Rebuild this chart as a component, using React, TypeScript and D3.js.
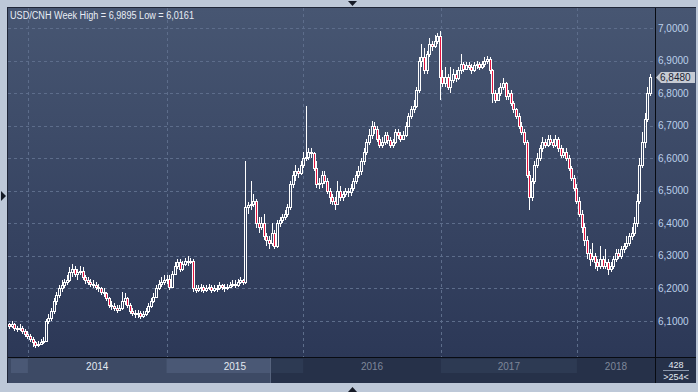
import React from 'react';
import * as d3 from 'd3';

const title = 'USD/CNH Week High = 6,9895 Low = 6,0161';
const firstOpen = 6.09;

// weekly closes, mid Nov 2013 .. summer 2018
const closes = [
  6.085, 6.09, 6.08, 6.075, 6.08, 6.07, 6.06, 6.055, 6.045, 6.035,
  6.025, 6.03, 6.035, 6.04, 6.10, 6.11, 6.13, 6.16, 6.18, 6.20,
  6.21, 6.22, 6.225, 6.25, 6.26, 6.245, 6.25, 6.255, 6.235, 6.225,
  6.22, 6.215, 6.21, 6.205, 6.20, 6.19, 6.185, 6.17, 6.15, 6.145,
  6.14, 6.135, 6.14, 6.16, 6.17, 6.15, 6.13, 6.125, 6.12, 6.125,
  6.115, 6.12, 6.13, 6.145, 6.16, 6.175, 6.20, 6.215, 6.22, 6.225,
  6.23, 6.205, 6.245, 6.27, 6.28, 6.26, 6.275, 6.285, 6.28, 6.285,
  6.20, 6.195, 6.20, 6.205, 6.195, 6.20, 6.205, 6.195, 6.20, 6.20,
  6.21, 6.205, 6.20, 6.205, 6.21, 6.215, 6.21, 6.22, 6.225, 6.22,
  6.45, 6.455, 6.46, 6.47, 6.40, 6.39, 6.40, 6.36, 6.35, 6.34,
  6.37, 6.33, 6.40, 6.41, 6.42, 6.43, 6.45, 6.52, 6.55, 6.56,
  6.555, 6.58, 6.60, 6.605, 6.62, 6.615, 6.57, 6.52, 6.525, 6.55,
  6.53, 6.50, 6.48, 6.47, 6.46, 6.50, 6.48, 6.49, 6.50, 6.495,
  6.51, 6.53, 6.55, 6.56, 6.59, 6.62, 6.65, 6.67, 6.70, 6.69,
  6.66, 6.64, 6.65, 6.67, 6.655, 6.64, 6.65, 6.68, 6.67, 6.66,
  6.67, 6.70, 6.73, 6.75, 6.76, 6.81, 6.90, 6.91, 6.87, 6.92,
  6.95, 6.945, 6.96, 6.975, 6.85, 6.83, 6.85, 6.82, 6.84, 6.86,
  6.845, 6.87, 6.89, 6.875, 6.885, 6.88, 6.87, 6.885, 6.89, 6.88,
  6.89, 6.90, 6.905, 6.87, 6.80, 6.78, 6.80, 6.82, 6.83, 6.79,
  6.80, 6.77, 6.75, 6.73, 6.70, 6.68, 6.65, 6.55, 6.48, 6.53,
  6.58, 6.60, 6.63, 6.65, 6.64, 6.66, 6.65, 6.64, 6.66, 6.63,
  6.61, 6.62, 6.60, 6.57, 6.54, 6.51, 6.47, 6.43, 6.39, 6.35,
  6.31, 6.29, 6.30, 6.28, 6.27, 6.29, 6.27, 6.28, 6.26, 6.27,
  6.29, 6.31, 6.30, 6.32, 6.33, 6.34, 6.36, 6.37, 6.40, 6.47,
  6.58, 6.65, 6.72, 6.80, 6.848,
];

const highs = [
  6.095, 6.10, 6.095, 6.085, 6.09, 6.085, 6.075, 6.07, 6.06, 6.05,
  6.04, 6.04, 6.045, 6.05, 6.105, 6.12, 6.14, 6.17, 6.19, 6.21,
  6.225, 6.23, 6.24, 6.265, 6.275, 6.27, 6.26, 6.27, 6.265, 6.24,
  6.235, 6.23, 6.225, 6.22, 6.215, 6.205, 6.20, 6.19, 6.175, 6.16,
  6.155, 6.15, 6.15, 6.19, 6.185, 6.175, 6.155, 6.14, 6.135, 6.135,
  6.13, 6.13, 6.14, 6.155, 6.17, 6.185, 6.21, 6.225, 6.235, 6.24,
  6.24, 6.24, 6.255, 6.28, 6.29, 6.29, 6.285, 6.295, 6.30, 6.295,
  6.29, 6.21, 6.21, 6.215, 6.21, 6.21, 6.215, 6.21, 6.21, 6.21,
  6.22, 6.215, 6.215, 6.215, 6.22, 6.225, 6.225, 6.23, 6.235, 6.23,
  6.59, 6.465, 6.53, 6.49, 6.475, 6.42, 6.42, 6.43, 6.37, 6.36,
  6.40, 6.38, 6.41, 6.42, 6.43, 6.44, 6.46, 6.53, 6.56, 6.58,
  6.57, 6.59, 6.62, 6.76, 6.63, 6.63, 6.62, 6.59, 6.54, 6.56,
  6.56, 6.54, 6.51, 6.49, 6.48, 6.53, 6.515, 6.50, 6.51, 6.51,
  6.52, 6.54, 6.56, 6.575, 6.60, 6.63, 6.66, 6.69, 6.715, 6.71,
  6.70, 6.67, 6.665, 6.68, 6.68, 6.665, 6.66, 6.69, 6.69, 6.68,
  6.685, 6.71, 6.74, 6.76, 6.78, 6.82, 6.91, 6.95, 6.94, 6.93,
  6.97, 6.96, 6.98, 6.985, 6.9895, 6.87, 6.88, 6.86, 6.88, 6.875,
  6.87, 6.88, 6.92, 6.895, 6.895, 6.895, 6.89, 6.895, 6.90, 6.895,
  6.90, 6.91, 6.915, 6.91, 6.875, 6.81, 6.815, 6.83, 6.845, 6.835,
  6.81, 6.81, 6.775, 6.755, 6.74, 6.71, 6.69, 6.655, 6.56, 6.54,
  6.59, 6.615, 6.64, 6.665, 6.66, 6.67, 6.67, 6.66, 6.67, 6.665,
  6.64, 6.63, 6.63, 6.61, 6.575, 6.55, 6.52, 6.48, 6.44, 6.40,
  6.36, 6.32, 6.34, 6.31, 6.29, 6.33, 6.30, 6.32, 6.29, 6.28,
  6.30, 6.32, 6.32, 6.33, 6.34, 6.36, 6.37, 6.39, 6.42, 6.49,
  6.60, 6.68, 6.74, 6.82, 6.86,
];

const lows = [
  6.075, 6.08, 6.07, 6.065, 6.07, 6.06, 6.05, 6.045, 6.035, 6.02,
  6.0161, 6.02, 6.025, 6.03, 6.035, 6.09, 6.10, 6.12, 6.15, 6.17,
  6.19, 6.20, 6.21, 6.22, 6.235, 6.235, 6.225, 6.24, 6.225, 6.215,
  6.21, 6.205, 6.20, 6.195, 6.19, 6.18, 6.175, 6.16, 6.14, 6.135,
  6.13, 6.125, 6.13, 6.135, 6.15, 6.14, 6.12, 6.115, 6.11, 6.11,
  6.105, 6.11, 6.115, 6.125, 6.14, 6.155, 6.17, 6.195, 6.205, 6.21,
  6.215, 6.195, 6.20, 6.24, 6.26, 6.25, 6.255, 6.27, 6.27, 6.275,
  6.19, 6.185, 6.19, 6.19, 6.185, 6.19, 6.195, 6.185, 6.19, 6.19,
  6.195, 6.195, 6.19, 6.195, 6.20, 6.205, 6.20, 6.205, 6.215, 6.21,
  6.215, 6.43, 6.44, 6.45, 6.385, 6.37, 6.38, 6.35, 6.33, 6.32,
  6.33, 6.32, 6.325, 6.39, 6.40, 6.41, 6.42, 6.44, 6.51, 6.53,
  6.54, 6.55, 6.57, 6.59, 6.595, 6.60, 6.56, 6.51, 6.505, 6.51,
  6.52, 6.49, 6.46, 6.455, 6.44, 6.455, 6.47, 6.47, 6.48, 6.48,
  6.485, 6.50, 6.52, 6.54, 6.55, 6.58, 6.61, 6.64, 6.66, 6.675,
  6.65, 6.63, 6.63, 6.64, 6.645, 6.63, 6.63, 6.645, 6.66, 6.65,
  6.655, 6.665, 6.695, 6.72, 6.74, 6.755, 6.80, 6.88, 6.86, 6.86,
  6.91, 6.93, 6.94, 6.95, 6.78, 6.82, 6.82, 6.81, 6.80, 6.83,
  6.835, 6.84, 6.86, 6.865, 6.87, 6.87, 6.86, 6.865, 6.875, 6.87,
  6.875, 6.88, 6.89, 6.86, 6.77, 6.77, 6.775, 6.79, 6.81, 6.78,
  6.78, 6.76, 6.74, 6.72, 6.69, 6.67, 6.64, 6.54, 6.44, 6.47,
  6.52, 6.57, 6.59, 6.62, 6.63, 6.635, 6.64, 6.63, 6.635, 6.62,
  6.60, 6.60, 6.59, 6.56, 6.53, 6.50, 6.46, 6.42, 6.37, 6.33,
  6.29, 6.27, 6.28, 6.26, 6.255, 6.26, 6.26, 6.26, 6.24, 6.25,
  6.26, 6.28, 6.29, 6.29, 6.31, 6.32, 6.33, 6.35, 6.36, 6.39,
  6.46, 6.57, 6.63, 6.71, 6.79,
];

const yTicks = [6.1, 6.2, 6.3, 6.4, 6.5, 6.6, 6.7, 6.8, 6.9, 7.0];
const years = ['2014', '2015', '2016', '2017', '2018'];
const yearStarts = [6.8, 59.6, 111.6, 164, 215.8]; // bar index where each year begins
const lastPrice = 6.848;
const barsTotal = '428';
const barsShown = '>254<';

const W = 698;
const H = 392;
const plot = { left: 8, top: 8, right: 655, bottom: 357 };
const panel = { right: 696, bottom: 383 };
const thumbRight = 270;
const font = '"Liberation Sans", Arial, sans-serif';

const fmt = (v: number) => v.toFixed(4).replace('.', ',');

export default function App() {
  const x = d3.scaleLinear().domain([0, closes.length - 1]).range([10, 651]);
  const y = d3.scaleLinear().domain([6.1, 7.0]).range([321, 28]);

  const candles = closes.map((c, i) => ({
    i,
    o: i ? closes[i - 1] : firstOpen,
    h: highs[i],
    l: lows[i],
    c,
  }));

  const bounds = yearStarts.map((s) => x(s));
  const edges = [...bounds, plot.right];
  const labels = years.map((yr, k) => ({ yr, cx: (edges[k] + edges[k + 1]) / 2, bright: edges[k] < thumbRight }));
  // shaded blocks in the time strip: the stub before 2014, then every other year
  const blocks = [
    [plot.left + 3, bounds[0]],
    [bounds[1], bounds[2]],
    [bounds[3], bounds[4]],
  ];

  const ly = y(lastPrice);

  return (
    <svg width={W} height={H} style={{ position: 'absolute', left: 0, top: 0 }} fontFamily={font}>
      <defs>
        <linearGradient id="bg" x1="0" y1="0" x2="0" y2="1">
          <stop offset="0" stopColor="#475672" />
          <stop offset="1" stopColor="#2c3857" />
        </linearGradient>
      </defs>
      <rect width={W} height={H} fill="#bdc8d8" />
      <rect x={plot.left - 1} y={plot.top - 1} width={panel.right - plot.left + 1} height={panel.bottom - plot.top + 1} fill="#1f2638" />
      <rect x={plot.left} y={plot.top} width={panel.right - plot.left} height={plot.bottom - plot.top} fill="url(#bg)" />

      {/* time strip */}
      <rect x={plot.left} y={plot.bottom} width={panel.right - plot.left} height={panel.bottom - plot.bottom} fill="#263149" />
      <rect x={plot.left} y={plot.bottom} width={thumbRight - plot.left} height={panel.bottom - plot.bottom} fill="#3d4a65" />
      {blocks.map(([a, b], k) => (
        <g key={k}>
          <rect x={a} y={plot.bottom + 2} width={Math.max(0, Math.min(b, thumbRight) - a)} height={14} fill="#4a5875" />
          {b > thumbRight && (
            <rect x={Math.max(a, thumbRight)} y={plot.bottom + 2} width={b - Math.max(a, thumbRight)} height={14} fill="#2d3a53" />
          )}
        </g>
      ))}
      <line x1={thumbRight + 0.5} x2={thumbRight + 0.5} y1={plot.bottom} y2={panel.bottom} stroke="#56637d" />
      {labels.map((d) => (
        <text key={d.yr} x={d.cx} y={plot.bottom + 13} textAnchor="middle" fontSize={10} fill={d.bright ? '#e3e9f2' : '#7e879a'}>
          {d.yr}
        </text>
      ))}

      {/* grid */}
      {yTicks.map((t) => (
        <line key={t} x1={plot.left} x2={plot.right} y1={Math.round(y(t)) + 0.5} y2={Math.round(y(t)) + 0.5} stroke="#5d6d8b" strokeDasharray="3,3" />
      ))}
      {bounds.map((b, k) => (
        <line key={k} x1={Math.round(b) + 0.5} x2={Math.round(b) + 0.5} y1={plot.top} y2={plot.bottom} stroke="#5d6d8b" strokeDasharray="3,3" />
      ))}

      {/* candles */}
      {candles.map((d) => {
        const cx = Math.round(x(d.i));
        const top = Math.round(y(Math.max(d.o, d.c)));
        const bot = Math.max(top + 1, Math.round(y(Math.min(d.o, d.c))));
        const down = d.c < d.o;
        return (
          <g key={d.i}>
            <line x1={cx - 0.5} x2={cx - 0.5} y1={Math.round(y(d.h))} y2={top} stroke="#fff" />
            <line x1={cx - 0.5} x2={cx - 0.5} y1={bot} y2={Math.round(y(d.l))} stroke="#fff" />
            <rect x={cx - 1.5} y={top + 0.5} width={2} height={bot - top} fill={down ? '#e3143f' : 'none'} stroke="#fff" />
          </g>
        );
      })}

      <text x={10} y={18.5} fontSize={10} fill="#e8edf5" textLength={184} lengthAdjust="spacingAndGlyphs">
        {title}
      </text>

      {/* right axis */}
      {yTicks.map((t) => (
        <text key={t} x={658} y={y(t) + 3.5} fontSize={10} fill="#bcd0ea">
          {fmt(t)}
        </text>
      ))}
      <polygon
        points={`${plot.right + 1},${ly} ${plot.right + 6},${ly - 5.5} ${panel.right - 1},${ly - 5.5} ${panel.right - 1},${ly + 5.5} ${plot.right + 6},${ly + 5.5}`}
        fill="#c6cbd4"
      />
      <text x={660} y={ly + 3.5} fontSize={10} fill="#1b2232">
        {fmt(lastPrice)}
      </text>

      <line x1={plot.right + 0.5} x2={plot.right + 0.5} y1={plot.top} y2={panel.bottom} stroke="#080b12" />
      <line x1={plot.left} x2={panel.right} y1={plot.bottom + 0.5} y2={plot.bottom + 0.5} stroke="#080b12" />

      <text x={676} y={367.5} fontSize={9} textAnchor="middle" fill="#e3e9f2">{barsTotal}</text>
      <line x1={663} x2={689} y1={370.5} y2={370.5} stroke="#8a96ab" />
      <text x={676} y={379.5} fontSize={9} textAnchor="middle" fill="#e3e9f2">{barsShown}</text>

      {/* scroll arrows */}
      <polygon points="348,1 357,1 352.5,6" fill="#151a26" />
      <polygon points="348,392 357,392 352.5,387" fill="#151a26" />
      <polygon points="1,191 1,201 6,196" fill="#151a26" />
    </svg>
  );
}
